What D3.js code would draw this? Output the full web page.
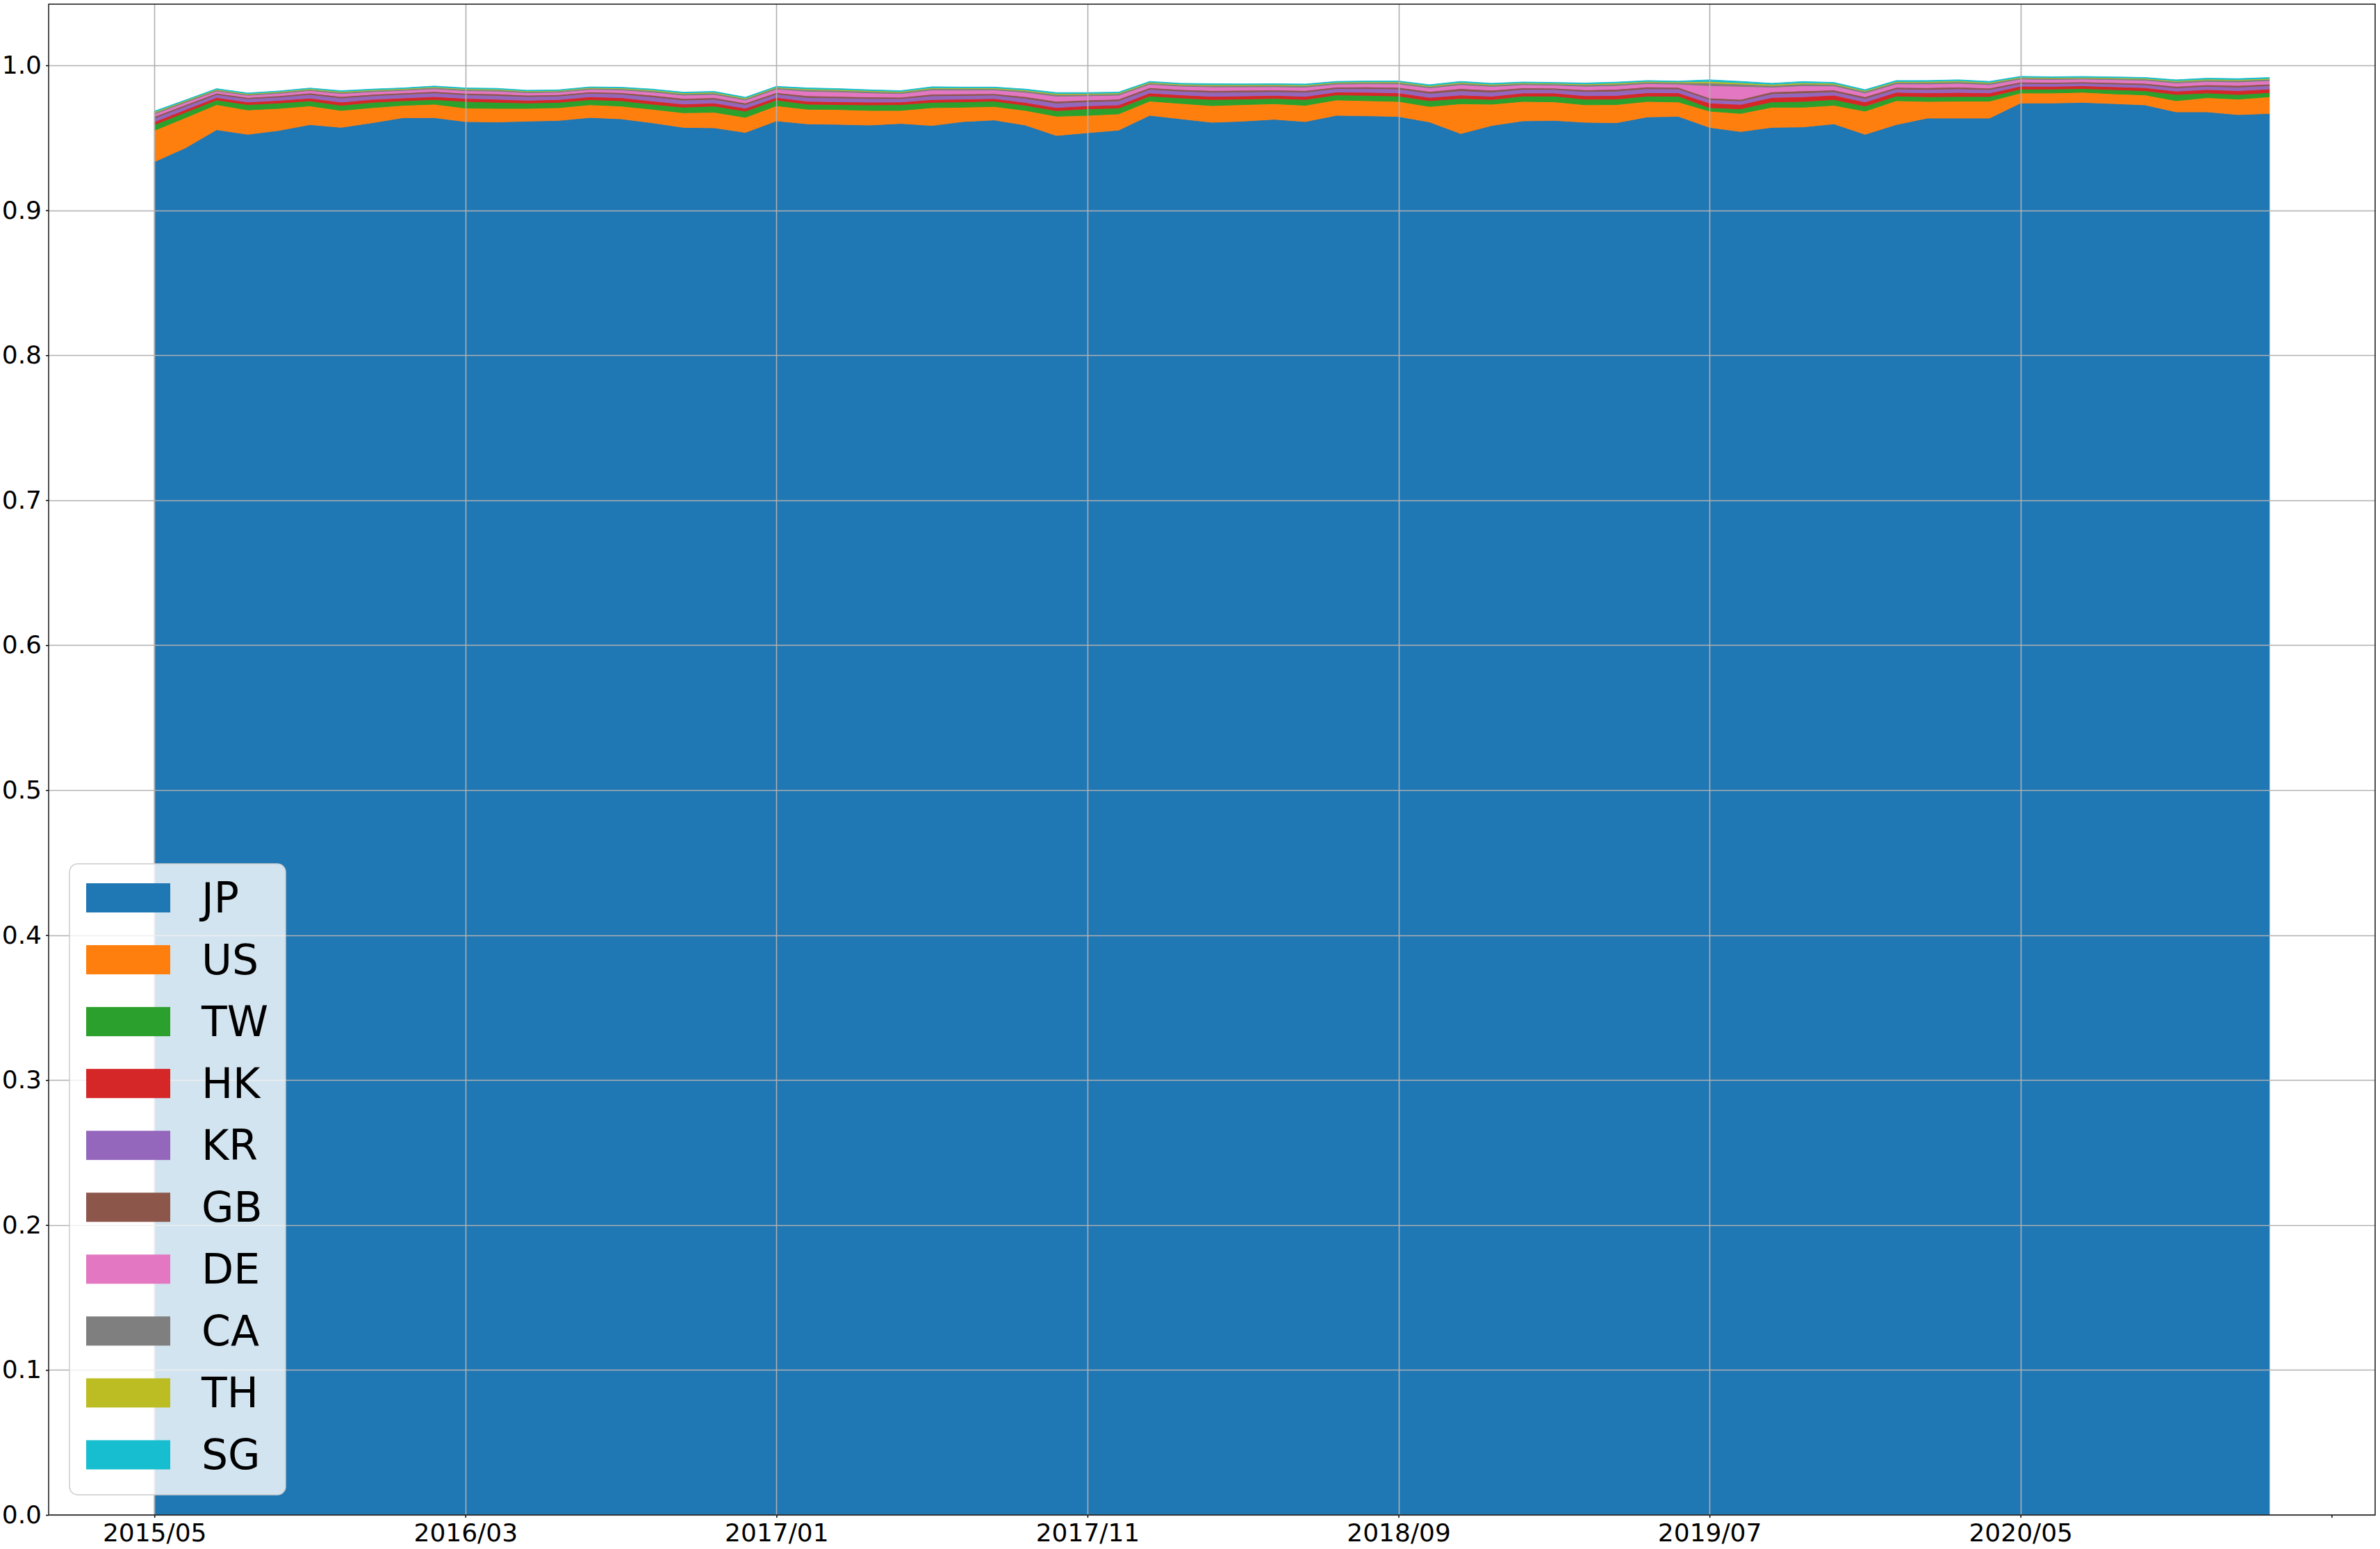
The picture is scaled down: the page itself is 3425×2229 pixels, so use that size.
<!DOCTYPE html>
<html>
<head>
<meta charset="utf-8">
<script src="https://cdn.jsdelivr.net/npm/d3@7"></script>
<style>
  html, body { margin: 0; padding: 0; background: #fff; }
  svg { display: block; font-family: "DejaVu Sans", sans-serif; }
</style>
</head>
<body>
<svg id="chart" width="3425" height="2229"></svg>
<script>
const months = [
  "2015/05","2015/06","2015/07","2015/08","2015/09","2015/10","2015/11","2015/12",
  "2016/01","2016/02","2016/03","2016/04","2016/05","2016/06","2016/07","2016/08","2016/09","2016/10","2016/11","2016/12",
  "2017/01","2017/02","2017/03","2017/04","2017/05","2017/06","2017/07","2017/08","2017/09","2017/10","2017/11","2017/12",
  "2018/01","2018/02","2018/03","2018/04","2018/05","2018/06","2018/07","2018/08","2018/09","2018/10","2018/11","2018/12",
  "2019/01","2019/02","2019/03","2019/04","2019/05","2019/06","2019/07","2019/08","2019/09","2019/10","2019/11","2019/12",
  "2020/01","2020/02","2020/03","2020/04","2020/05","2020/06","2020/07","2020/08","2020/09","2020/10","2020/11","2020/12",
  "2021/01"
];
const countries = ["JP","US","TW","HK","KR","GB","DE","CA","TH","SG"];
const colors = ["#1f77b4","#ff7f0e","#2ca02c","#d62728","#9467bd","#8c564b","#e377c2","#7f7f7f","#bcbd22","#17becf"];
const tickIndices = [0,10,20,30,40,50,60,70];
const yTicks = [0,0.1,0.2,0.3,0.4,0.5,0.6,0.7,0.8,0.9,1.0];

const JP = [0.9335,0.9431,0.9556,0.9524,0.9551,0.9591,0.9572,0.9604,0.9639,0.9639,
 0.9612,0.9609,0.9615,0.9620,0.9640,0.9631,0.9604,0.9572,0.9569,0.9537,
 0.9617,0.9596,0.9593,0.9588,0.9599,0.9585,0.9612,0.9623,0.9588,0.9516,
 0.9535,0.9553,0.9655,0.9631,0.9607,0.9615,0.9628,0.9612,0.9655,0.9652,
 0.9647,0.9609,0.9529,0.9585,0.9617,0.9620,0.9607,0.9604,0.9644,0.9648,
 0.9572,0.9543,0.9572,0.9575,0.9596,0.9524,0.9591,0.9636,0.9636,0.9636,
 0.9740,0.9740,0.9744,0.9736,0.9727,0.9679,0.9679,0.9660,0.9668];
const US = [0.0216,0.0208,0.0173,0.0168,0.0152,0.0129,0.0117,0.0104,0.0085,0.0093,
 0.0093,0.0094,0.0088,0.0088,0.0088,0.0088,0.0093,0.0101,0.0107,0.0104,
 0.0104,0.0101,0.0102,0.0101,0.0090,0.0123,0.0099,0.0093,0.0101,0.0133,
 0.0120,0.0112,0.0098,0.0106,0.0115,0.0114,0.0107,0.0112,0.0106,0.0104,
 0.0104,0.0107,0.0206,0.0147,0.0134,0.0128,0.0121,0.0125,0.0107,0.0099,
 0.0112,0.0125,0.0139,0.0136,0.0128,0.0160,0.0165,0.0115,0.0117,0.0117,
 0.0069,0.0069,0.0070,0.0067,0.0069,0.0077,0.0098,0.0107,0.0115];
const TW = [0.0040,0.0037,0.0032,0.0037,0.0037,0.0035,0.0035,0.0037,0.0032,0.0032,
 0.0046,0.0042,0.0037,0.0037,0.0035,0.0037,0.0035,0.0038,0.0043,0.0043,
 0.0040,0.0035,0.0034,0.0038,0.0040,0.0037,0.0037,0.0037,0.0035,0.0038,
 0.0045,0.0040,0.0035,0.0038,0.0042,0.0038,0.0037,0.0040,0.0035,0.0037,
 0.0037,0.0040,0.0037,0.0032,0.0037,0.0040,0.0038,0.0038,0.0037,0.0040,
 0.0024,0.0032,0.0037,0.0040,0.0040,0.0035,0.0032,0.0032,0.0032,0.0032,
 0.0027,0.0027,0.0026,0.0029,0.0029,0.0043,0.0032,0.0032,0.0029];
const HK = [0.0020,0.0019,0.0017,0.0018,0.0018,0.0019,0.0022,0.0020,0.0019,0.0020,
 0.0021,0.0021,0.0019,0.0019,0.0020,0.0021,0.0022,0.0022,0.0021,0.0020,
 0.0018,0.0020,0.0020,0.0019,0.0018,0.0019,0.0019,0.0018,0.0020,0.0022,
 0.0021,0.0022,0.0021,0.0021,0.0022,0.0022,0.0021,0.0022,0.0020,0.0021,
 0.0022,0.0023,0.0023,0.0023,0.0021,0.0021,0.0024,0.0025,0.0023,0.0023,
 0.0032,0.0030,0.0030,0.0032,0.0030,0.0028,0.0026,0.0027,0.0028,0.0025,
 0.0020,0.0019,0.0019,0.0020,0.0021,0.0023,0.0024,0.0026,0.0025];
const KR = [0.0025,0.0023,0.0021,0.0022,0.0023,0.0025,0.0028,0.0025,0.0025,0.0026,
 0.0025,0.0026,0.0025,0.0024,0.0024,0.0025,0.0028,0.0027,0.0026,0.0025,
 0.0023,0.0026,0.0026,0.0025,0.0023,0.0026,0.0025,0.0024,0.0028,0.0030,
 0.0028,0.0028,0.0026,0.0026,0.0028,0.0027,0.0026,0.0028,0.0024,0.0026,
 0.0027,0.0028,0.0029,0.0028,0.0025,0.0024,0.0029,0.0030,0.0028,0.0027,
 0.0024,0.0024,0.0026,0.0027,0.0024,0.0024,0.0023,0.0024,0.0025,0.0022,
 0.0019,0.0019,0.0018,0.0019,0.0020,0.0022,0.0022,0.0024,0.0023];
const GB = [0.0011,0.0010,0.0009,0.0009,0.0009,0.0010,0.0011,0.0010,0.0010,0.0010,
 0.0010,0.0011,0.0010,0.0010,0.0010,0.0010,0.0012,0.0012,0.0011,0.0011,
 0.0010,0.0012,0.0011,0.0011,0.0010,0.0011,0.0011,0.0010,0.0012,0.0013,
 0.0012,0.0012,0.0011,0.0011,0.0012,0.0012,0.0011,0.0012,0.0010,0.0011,
 0.0011,0.0013,0.0016,0.0014,0.0011,0.0010,0.0012,0.0013,0.0012,0.0011,
 0.0011,0.0011,0.0013,0.0014,0.0012,0.0012,0.0011,0.0012,0.0012,0.0011,
 0.0010,0.0009,0.0009,0.0010,0.0010,0.0011,0.0011,0.0012,0.0011];
const DE = [0.0017,0.0016,0.0015,0.0015,0.0016,0.0017,0.0020,0.0018,0.0017,0.0018,
 0.0018,0.0019,0.0017,0.0017,0.0017,0.0018,0.0021,0.0022,0.0022,0.0020,
 0.0024,0.0031,0.0031,0.0028,0.0025,0.0029,0.0026,0.0025,0.0030,0.0035,
 0.0029,0.0027,0.0023,0.0023,0.0025,0.0023,0.0022,0.0023,0.0020,0.0021,
 0.0023,0.0024,0.0026,0.0025,0.0021,0.0020,0.0024,0.0025,0.0023,0.0022,
 0.0085,0.0090,0.0032,0.0035,0.0028,0.0026,0.0024,0.0025,0.0026,0.0023,
 0.0020,0.0019,0.0019,0.0020,0.0021,0.0023,0.0023,0.0024,0.0023];
const CA = [0.0009,0.0008,0.0007,0.0007,0.0008,0.0008,0.0009,0.0008,0.0008,0.0009,
 0.0009,0.0009,0.0008,0.0008,0.0008,0.0009,0.0010,0.0010,0.0010,0.0009,
 0.0009,0.0011,0.0010,0.0010,0.0009,0.0010,0.0010,0.0009,0.0010,0.0012,
 0.0010,0.0010,0.0009,0.0009,0.0010,0.0010,0.0010,0.0010,0.0009,0.0009,
 0.0010,0.0010,0.0011,0.0010,0.0009,0.0009,0.0011,0.0011,0.0010,0.0010,
 0.0018,0.0016,0.0012,0.0013,0.0011,0.0011,0.0011,0.0011,0.0011,0.0011,
 0.0009,0.0009,0.0008,0.0009,0.0009,0.0010,0.0010,0.0011,0.0010];
const TH = [0.0006,0.0005,0.0005,0.0005,0.0005,0.0005,0.0006,0.0005,0.0005,0.0005,
 0.0005,0.0005,0.0005,0.0004,0.0005,0.0005,0.0006,0.0006,0.0006,0.0006,
 0.0005,0.0006,0.0006,0.0006,0.0006,0.0006,0.0006,0.0006,0.0006,0.0007,
 0.0006,0.0006,0.0006,0.0006,0.0006,0.0006,0.0006,0.0006,0.0005,0.0006,
 0.0006,0.0006,0.0006,0.0006,0.0005,0.0005,0.0006,0.0007,0.0006,0.0006,
 0.0011,0.0009,0.0008,0.0008,0.0007,0.0006,0.0006,0.0007,0.0007,0.0006,
 0.0005,0.0005,0.0005,0.0005,0.0005,0.0006,0.0006,0.0006,0.0006];
const SG = [0.0005,0.0004,0.0004,0.0004,0.0004,0.0004,0.0005,0.0005,0.0004,0.0005,
 0.0005,0.0005,0.0004,0.0004,0.0004,0.0005,0.0005,0.0005,0.0005,0.0005,
 0.0005,0.0006,0.0006,0.0005,0.0005,0.0006,0.0005,0.0005,0.0006,0.0006,
 0.0006,0.0005,0.0005,0.0005,0.0006,0.0005,0.0005,0.0006,0.0005,0.0005,
 0.0005,0.0006,0.0006,0.0006,0.0005,0.0005,0.0006,0.0006,0.0005,0.0005,
 0.0011,0.0009,0.0007,0.0008,0.0006,0.0006,0.0006,0.0006,0.0006,0.0006,
 0.0005,0.0005,0.0005,0.0005,0.0005,0.0006,0.0006,0.0006,0.0006];

const series = {JP, US, TW, HK, KR, GB, DE, CA, TH, SG};

// Build table for d3.stack
const rows = months.map((m, i) => {
  const r = {i: i};
  countries.forEach(c => { r[c] = series[c][i]; });
  return r;
});

const svg = d3.select("#chart");
const W = 3425, H = 2229;
const plot = {left: 70, right: 3418, top: 6, bottom: 2180};

const x = d3.scaleLinear().domain([-3.4, 71.4]).range([plot.left, plot.right]);
const y = d3.scaleLinear().domain([0, 1.0422]).range([plot.bottom, plot.top]);

svg.append("rect").attr("width", W).attr("height", H).attr("fill", "#fff");

const stacked = d3.stack().keys(countries)(rows);
const area = d3.area()
  .x(d => x(d.data.i))
  .y0(d => y(d[0]))
  .y1(d => y(d[1]))
  .curve(d3.curveLinear);

svg.append("g").selectAll("path")
  .data(stacked)
  .join("path")
  .attr("d", area)
  .attr("fill", (d, k) => colors[k])
  .attr("stroke", (d, k) => colors[k])
  .attr("stroke-width", 1);

// Grid lines (drawn above areas)
const grid = svg.append("g");
grid.selectAll("line.h").data(yTicks).join("line")
  .attr("x1", plot.left).attr("x2", plot.right)
  .attr("y1", d => Math.round(y(d)) + 0.5).attr("y2", d => Math.round(y(d)) + 0.5)
  .attr("stroke", "#b0b0b0").attr("stroke-width", 1.6);
grid.selectAll("line.v").data(tickIndices.filter(t => months[t])).join("line")
  .attr("y1", plot.top).attr("y2", plot.bottom)
  .attr("x1", d => Math.round(x(d)) + 0.5).attr("x2", d => Math.round(x(d)) + 0.5)
  .attr("stroke", "#b0b0b0").attr("stroke-width", 1.6);

// Axes
const xAxis = d3.axisBottom(x)
  .tickValues(tickIndices)
  .tickFormat(i => months[i] || "")
  .tickSize(4).tickPadding(8);
const gx = svg.append("g").attr("transform", `translate(0,${plot.bottom})`).call(xAxis);
gx.select(".domain").remove();
gx.selectAll("line").attr("stroke", "#000").attr("stroke-width", 1.5);
gx.selectAll("text").attr("font-size", 36).attr("fill", "#000")
  .attr("font-family", "DejaVu Sans");

const yAxis = d3.axisLeft(y)
  .tickValues(yTicks)
  .tickFormat(d3.format(".1f"))
  .tickSize(4).tickPadding(6);
const gy = svg.append("g").attr("transform", `translate(${plot.left},0)`).call(yAxis);
gy.select(".domain").remove();
gy.selectAll("line").attr("stroke", "#000").attr("stroke-width", 1.5);
gy.selectAll("text").attr("font-size", 36).attr("fill", "#000")
  .attr("font-family", "DejaVu Sans");

// Frame
svg.append("rect")
  .attr("x", plot.left).attr("y", plot.top)
  .attr("width", plot.right - plot.left).attr("height", plot.bottom - plot.top)
  .attr("fill", "none").attr("stroke", "#222").attr("stroke-width", 1.6);

// Legend
const lg = svg.append("g");
const lgBox = {x: 100, y: 1243, w: 311, h: 908};
lg.append("rect")
  .attr("x", lgBox.x).attr("y", lgBox.y)
  .attr("width", lgBox.w).attr("height", lgBox.h)
  .attr("rx", 12).attr("ry", 12)
  .attr("fill", "#fff").attr("fill-opacity", 0.8)
  .attr("stroke", "#cccccc").attr("stroke-width", 1.5);
const rowStep = 89.05;
const firstCenter = 1292;
const items = lg.selectAll("g.item").data(countries).join("g")
  .attr("transform", (d, k) => `translate(0,${firstCenter + k * rowStep})`);
items.append("rect")
  .attr("x", 124).attr("y", -21).attr("width", 121).attr("height", 42)
  .attr("fill", (d, k) => colors[k]);
items.append("text")
  .attr("x", 290).attr("y", 21)
  .attr("font-size", 60).attr("font-family", "DejaVu Sans").attr("fill", "#000")
  .text(d => d);
</script>
</body>
</html>
